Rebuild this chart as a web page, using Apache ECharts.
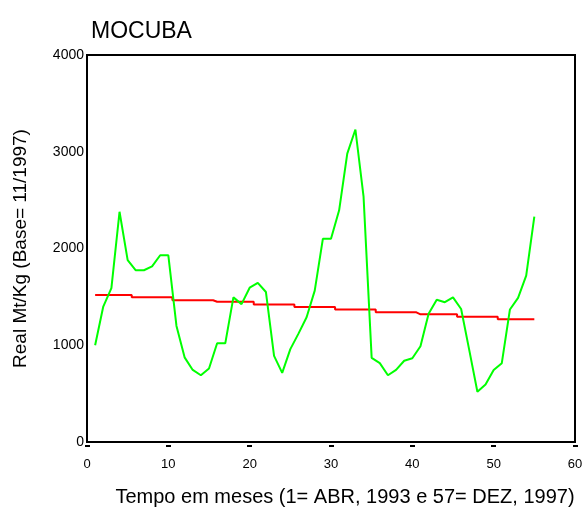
<!DOCTYPE html>
<html>
<head>
<meta charset="utf-8">
<script src="https://cdn.jsdelivr.net/npm/echarts@6/dist/echarts.min.js"></script>
<style>
  html, body { margin: 0; padding: 0; background: #fff; }
  #chart { width: 586px; height: 516px; }
</style>
</head>
<body>
<div id="chart"></div>
<script>
// meses 1..55 (1 = ABR 1993)
const months = [1, 2, 3, 4, 5, 6, 7, 8, 9, 10, 11, 12, 13, 14, 15, 16, 17, 18, 19, 20,
  21, 22, 23, 24, 25, 26, 27, 28, 29, 30, 31, 32, 33, 34, 35, 36, 37, 38, 39, 40,
  41, 42, 43, 44, 45, 46, 47, 48, 49, 50, 51, 52, 53, 54, 55]
// preco real (Mt/Kg)
const realPrice = [1000, 1400, 1590, 2380, 1880, 1775, 1775, 1815, 1930, 1930,
  1200, 875, 745, 690, 760, 1020, 1020, 1495, 1425, 1595,
  1645, 1550, 890, 715, 960, 1120, 1290, 1565, 2100, 2100,
  2395, 2980, 3230, 2540, 870, 815, 690, 745, 840, 865,
  990, 1325, 1470, 1445, 1495, 1375, 950, 520, 595, 745,
  815, 1370, 1490, 1720, 2330]
// tendencia (degraus de 5 meses)
const trend = [1520, 1520, 1520, 1520, 1520, 1495, 1495, 1495, 1495, 1495,
  1465, 1465, 1465, 1465, 1465, 1450, 1450, 1450, 1450, 1450,
  1420, 1420, 1420, 1420, 1420, 1395, 1395, 1395, 1395, 1395,
  1370, 1370, 1370, 1370, 1370, 1340, 1340, 1340, 1340, 1340,
  1320, 1320, 1320, 1320, 1320, 1295, 1295, 1295, 1295, 1295,
  1270, 1270, 1270, 1270, 1270]

const font = 'Liberation Sans, Arial, sans-serif'
const chart = echarts.init(document.getElementById('chart'))

chart.setOption({
  animation: false,
  title: {
    text: 'MOCUBA',
    left: 86,
    top: 15,
    textStyle: {fontFamily: font, fontSize: 23, fontWeight: 'normal', color: '#000'}
  },
  grid: {
    left: 87, right: 11, top: 55, bottom: 74,
    show: true, borderColor: '#000', borderWidth: 2
  },
  xAxis: [
    {
      type: 'value',
      min: 0, max: 60, interval: 10,
      name: 'Tempo em meses (1= ABR, 1993 e 57= DEZ, 1997)',
      nameLocation: 'middle',
      nameGap: 45,
      nameTextStyle: {fontFamily: font, fontSize: 20, color: '#000', padding: [0, 0, 0, 28]},
      axisLine: {show: false},
      axisTick: {show: false},
      splitLine: {show: false},
      axisLabel: {fontFamily: font, fontSize: 13, color: '#000', margin: 16}
    },
    {
      // pequenos tracos por baixo do eixo
      type: 'value',
      position: 'bottom',
      offset: 3,
      min: 0, max: 60, interval: 10,
      axisLine: {show: false},
      axisTick: {show: true, length: 2, lineStyle: {color: '#000', width: 5}},
      axisLabel: {show: false},
      splitLine: {show: false}
    }
  ],
  yAxis: {
    type: 'value',
    min: 0, max: 4000, interval: 1000,
    name: 'Real Mt/Kg (Base= 11/1997)',
    nameLocation: 'middle',
    nameGap: 57,
    nameTextStyle: {fontFamily: font, fontSize: 19, color: '#000'},
    axisLine: {show: false},
    axisTick: {show: false},
    splitLine: {show: false},
    axisLabel: {fontFamily: font, fontSize: 14, color: '#000', margin: 3, formatter: v => String(v)}
  },
  series: [
    {
      name: 'tendencia',
      type: 'line',
      step: 'middle',
      symbol: 'none',
      data: months.map((m, i) => [m, trend[i]]),
      lineStyle: {color: '#ff0000', width: 2}
    },
    {
      name: 'real',
      type: 'line',
      symbol: 'none',
      data: months.map((m, i) => [m, realPrice[i]]),
      lineStyle: {color: '#00ff00', width: 2}
    }
  ]
})
</script>
</body>
</html>
